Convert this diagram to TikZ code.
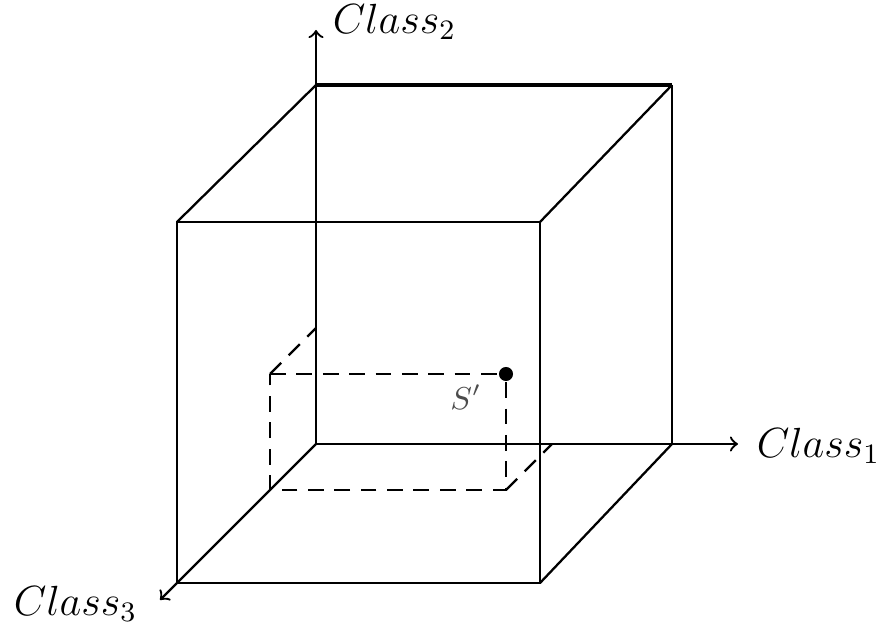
\documentclass[tikz,border=0pt]{standalone}
\usepackage{amsmath}
\usepackage{amssymb}

\begin{document}
\begin{tikzpicture}[x=0.01cm, y=-0.01cm, >=to, line width=0.65pt,
	axislabel/.style={font=\fontsize{11.5}{13}\selectfont},
	proj/.style={dashed, dash pattern=on 4.5pt off 3pt}]
	\useasboundingbox (0,0) rectangle (876,628);

	% Các đỉnh của hình lập phương
	\coordinate (O) at (316,444);
	\coordinate (B2) at (316,85);
	\coordinate (B3) at (672,85);
	\coordinate (B1) at (672,444);
	\coordinate (F0) at (177,583);
	\coordinate (F1) at (540,583);
	\coordinate (F2) at (177,222);
	\coordinate (F3) at (540,222);

	% Các trục
	\coordinate (E1) at (738,444);
	\coordinate (E2) at (316,30);
	\coordinate (E3) at (160,600);
	\draw[->] (O) -- (E1);
	\draw[->] (O) -- (E2);
	\draw[->] (O) -- (E3);
	\node[axislabel, anchor=west] (c1) at (744,446) {$Class_1$};
	\node[axislabel, anchor=west] (c2) at (320,22) {$Class_2$};
	\node[axislabel, anchor=east] (c3) at (150,604) {$Class_3$};

	% Các cạnh
	\draw[line width=1.4pt] (B2) -- (B3);
	\draw (B3) -- (B1);
	\draw (F0) -- (F1) -- (F3) -- (F2) -- cycle;
	\draw (B2) -- (F2);
	\draw (B3) -- (F3);
	\draw (B1) -- (F1);

	% Điểm S' và hình chiếu
	\coordinate (P0) at (270,490);
	\coordinate (Py) at (270,374);
	\coordinate (Px) at (506,490);
	\coordinate (Qy) at (316,328);
	\coordinate (Qx) at (552,444);
	\node[circle, fill, inner sep=0pt, minimum size=4pt] (S) at (506,374) {};
	\node[font=\fontsize{9}{11}\selectfont, text=black!70] (sl) at (466,397) {$S'$};
	\draw[proj] (Py) -- (S) -- (Px) -- (P0) -- (Py);
	\draw[proj] (Py) -- (Qy);
	\draw[proj] (Px) -- (Qx);
\end{tikzpicture}
\end{document}
